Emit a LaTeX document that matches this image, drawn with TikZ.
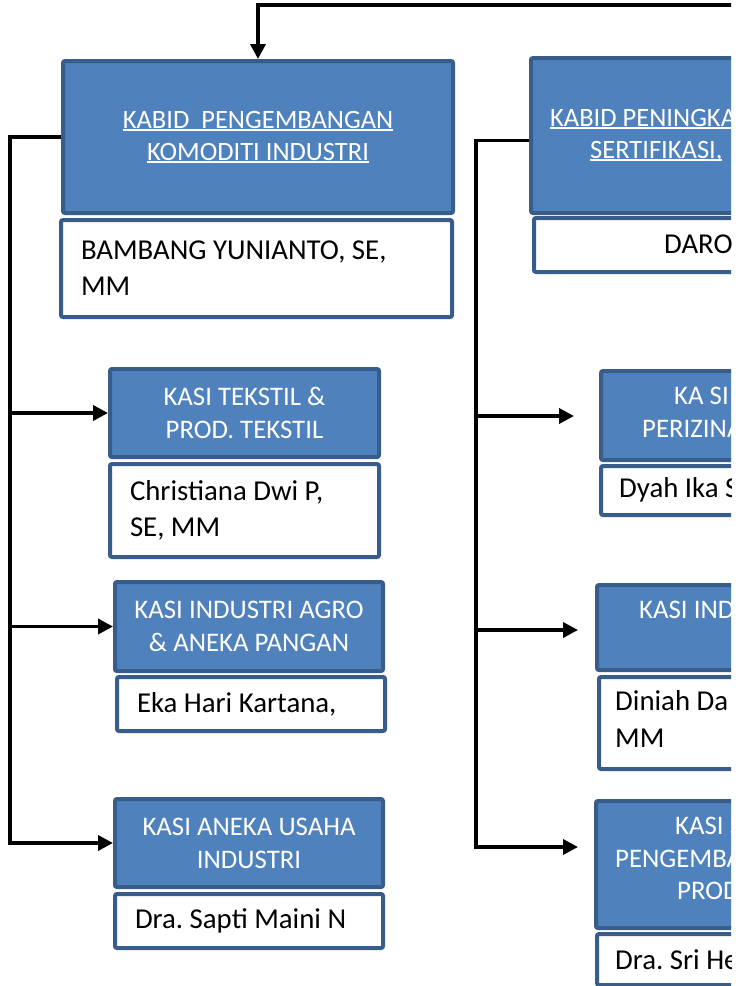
\documentclass[tikz,border=0pt]{standalone}
\usepackage{fontspec}
\setmainfont{Carlito}
\usetikzlibrary{arrows.meta}
\definecolor{biru}{HTML}{4F81BD}
\definecolor{biruTua}{HTML}{385D8A}
\frenchspacing
\newcommand\garis[1]{\setbox0\hbox{#1}\rlap{\rule[-3pt]{\wd0}{1.8pt}}\box0}
\begin{document}
\begin{tikzpicture}[x=1pt, y=-1pt,
        jabatan/.style={draw=biruTua, line width=4pt, fill=biru, rounded corners=2pt, anchor=north west,
            text=white, align=center, inner sep=0pt, font=\fontsize{26.8}{33}\selectfont},
        nama/.style={draw=biruTua, line width=4pt, fill=white, rounded corners=2pt, anchor=north west,
            align=flush left, inner xsep=20pt, inner ysep=0pt, font=\fontsize{28.8}{36}\selectfont},
        teks/.style={anchor=base west, inner sep=0pt, text=white, font=\fontsize{26.8}{33}\selectfont},
        teksnama/.style={anchor=base west, inner sep=0pt, font=\fontsize{28.8}{36}\selectfont},
        garis/.style={line width=3.5pt},
        panah/.style={garis, -{Triangle[length=15pt, width=15pt]}}]
    \useasboundingbox (0,0) rectangle (745,986);
    \begin{scope}
        \clip (0,0) rectangle (731,986);
        % kolom kiri
        \node[jabatan, minimum width=390pt, minimum height=152pt, font=\fontsize{26.5}{32}\selectfont] (b1) at (61,59)
            {\garis{KABID~~PENGEMBANGAN}\\\garis{KOMODITI INDUSTRI}};
        \node[nama, text width=351pt, minimum height=97pt] (n1) at (59,218) {BAMBANG YUNIANTO, SE,\\MM};
        \node[jabatan, minimum width=269pt, minimum height=88pt] (b2) at (108,367) {KASI TEKSTIL \&\\PROD. TEKSTIL};
        \node[nama, text width=229pt, minimum height=93pt] (n2) at (108,462) {Christiana Dwi P,\\SE, MM};
        \node[jabatan, minimum width=268pt, minimum height=89pt] (b3) at (113,580) {KASI INDUSTRI AGRO\\\& ANEKA PANGAN};
        \node[nama, text width=228pt, minimum height=54pt] (n3) at (115,675) {Eka Hari Kartana,};
        \node[jabatan, minimum width=268pt, minimum height=88pt] (b4) at (113,797) {KASI ANEKA USAHA\\INDUSTRI};
        \node[nama, text width=228pt, minimum height=54pt] (n4) at (113,892) {Dra. Sapti Maini N};
        % kolom kanan
        \node[jabatan, minimum width=240pt, minimum height=155pt] (b5) at (529,56) {};
        \node[nama, text width=200pt, minimum height=54pt] (n5) at (532,216) {};
        \node[jabatan, minimum width=200pt, minimum height=89pt] (b6) at (599,369) {};
        \node[nama, text width=160pt, minimum height=49pt] (n6) at (599,464) {};
        \node[jabatan, minimum width=200pt, minimum height=85pt] (b7) at (595,583) {};
        \node[nama, text width=160pt, minimum height=92pt] (n7) at (597,675) {};
        \node[jabatan, minimum width=200pt, minimum height=127pt] (b8) at (594,799) {};
        \node[nama, text width=160pt, minimum height=51pt] (n8) at (595,932) {};
        \node[teks, font=\fontsize{26.5}{32}\selectfont] (t5a) at (550,126) {\garis{KABID PENINGKA}};
        \node[teks, font=\fontsize{26.5}{32}\selectfont] (t5b) at (590,158) {\garis{SERTIFIKASI,}};
        \node[teksnama] (t5c) at (664,253) {DARO};
        \node[teks] (t6a) at (674,404) {KA SI};
        \node[teks] (t6b) at (642,437) {PERIZINA};
        \node[teksnama] (t6c) at (619,497) {Dyah Ika S};
        \node[teks] (t7a) at (639,618) {KASI IND};
        \node[teksnama] (t7b) at (615,710) {Diniah Da};
        \node[teksnama] (t7c) at (615,747) {MM};
        \node[teks] (t8a) at (675,834) {KASI S};
        \node[teks] (t8b) at (615,867) {PENGEMBA};
        \node[teks] (t8c) at (677,899) {PROD};
        \node[teksnama] (t8d) at (615,969) {Dra. Sri He};
        % garis
        \coordinate (atas) at (740,5);
        \coordinate (kiri) at (10,0);
        \coordinate (kanan) at (476,0);
        \coordinate (p6) at (574,416);
        \coordinate (p7) at (578,630);
        \coordinate (p8) at (578,847);
        \draw[panah] (atas) -| (b1.north);
        \draw[panah] (b1.west) -| (kiri |- b4.west) -- (b4.west);
        \draw[panah] (kiri |- b2.west) -- (b2.west);
        \draw[panah] (kiri |- b3.west) -- (b3.west);
        \draw[panah] ([yshift=-5pt]b5.west) -| (kanan |- p8) -- (p8);
        \draw[panah] (kanan |- p6) -- (p6);
        \draw[panah] (kanan |- p7) -- (p7);
    \end{scope}
\end{tikzpicture}
\end{document}
